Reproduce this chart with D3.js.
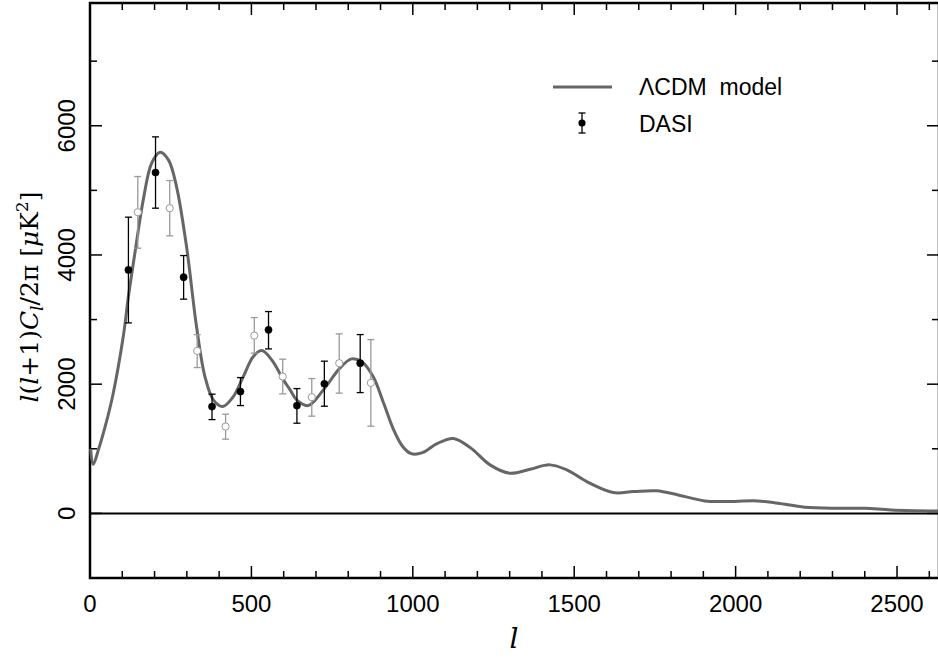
<!DOCTYPE html>
<html>
<head>
<meta charset="utf-8">
<script src="https://cdn.jsdelivr.net/npm/d3@7"></script>
<style>
  body { margin: 0; background: #fff; }
</style>
</head>
<body>
<div id="chart"></div>
<script>
// LCDM model curve (l, l(l+1)Cl/2pi)
var modelL = [2, 10, 26, 50, 72, 103, 119, 139, 165, 191, 217, 243, 268, 299, 330, 356, 382, 411, 444, 475, 506, 532, 563, 599, 620, 640, 676, 723, 774, 810, 841, 877, 910, 940, 968, 995, 1030, 1075, 1126, 1180, 1239, 1301, 1363, 1425, 1477, 1539, 1621, 1683, 1755, 1822, 1904, 1966, 2069, 2131, 2214, 2317, 2400, 2482, 2630];
var modelV = [1000, 760, 983, 1400, 1860, 2737, 3356, 4028, 4853, 5421, 5591, 5472, 5059, 4130, 2892, 2118, 1757, 1653, 1808, 2118, 2427, 2520, 2376, 2067, 1912, 1757, 1669, 1912, 2248, 2392, 2350, 2118, 1700, 1300, 1040, 925, 940, 1080, 1160, 1010, 751, 622, 684, 751, 673, 492, 322, 337, 350, 286, 193, 183, 193, 158, 96, 80, 80, 54, 38];

// DASI bandpowers (filled)
var dasiL = [119, 203, 290, 378, 466, 553, 641, 726, 837];
var dasiV = [3769, 5276, 3656, 1653, 1886, 2841, 1669, 2005, 2325];
var dasiLo = [2949, 4724, 3316, 1452, 1669, 2546, 1396, 1659, 1870];
var dasiHi = [4585, 5828, 3991, 1845, 2102, 3124, 1932, 2356, 2768];

// offset bins (open, grey)
var altL = [148, 247, 332, 420, 509, 597, 687, 772, 870];
var altV = [4662, 4724, 2515, 1344, 2752, 2118, 1799, 2325, 2020];
var altLo = [4105, 4296, 2257, 1149, 2480, 1850, 1505, 1861, 1350];
var altHi = [5214, 5152, 2768, 1535, 3031, 2387, 2087, 2779, 2690];

var xTicks = [0, 500, 1000, 1500, 2000, 2500];
var yTicks = [0, 2000, 4000, 6000];

(function () {
    var width = 938, height = 664;
    var mLeft = 90, mRight = 939, mTop = 3, mBottom = 578;
    var sans = "Liberation Sans, Arial, sans-serif";
    var serif = "DejaVu Serif, serif";

    var svg = d3.select("#chart").append("svg")
        .attr("width", width)
        .attr("height", height);

    var x = d3.scaleLinear().domain([0, 2630]).range([mLeft, mRight]);
    var y = d3.scaleLinear().domain([-1000, 7900]).range([mBottom, mTop]);

    // ticks: major + minor, inward on all four sides
    var xMinor = d3.range(100, 2630, 100).filter(function (d) { return d % 500 != 0; });
    var yMinor = [-1000, 1000, 3000, 5000, 7000];

    function tickLines(g, vals, len, orient) {
        var horiz = orient == "b" || orient == "t";
        g.selectAll(null).data(vals).enter().append("line")
            .attr("stroke", "#000")
            .attr("stroke-width", 1.5)
            .attr("x1", function (d) { return horiz ? x(d) : (orient == "l" ? mLeft : mRight); })
            .attr("x2", function (d) { return horiz ? x(d) : (orient == "l" ? mLeft + len : mRight - len); })
            .attr("y1", function (d) { return horiz ? (orient == "b" ? mBottom : mTop) : y(d); })
            .attr("y2", function (d) { return horiz ? (orient == "b" ? mBottom - len : mTop + len) : y(d); });
    }
    var tg = svg.append("g");
    tickLines(tg, xTicks, 12, "b");
    tickLines(tg, xMinor, 7, "b");
    tickLines(tg, xTicks, 12, "t");
    tickLines(tg, xMinor, 7, "t");
    tickLines(tg, yTicks, 12, "l");
    tickLines(tg, yMinor, 7, "l");
    tickLines(tg, yTicks, 12, "r");
    tickLines(tg, yMinor, 7, "r");

    // frame
    svg.append("rect")
        .attr("x", mLeft).attr("y", mTop)
        .attr("width", mRight - mLeft).attr("height", mBottom - mTop)
        .attr("fill", "none")
        .attr("stroke", "#000")
        .attr("stroke-width", 2.5);

    // zero line
    svg.append("line")
        .attr("x1", mLeft).attr("x2", mRight)
        .attr("y1", y(0)).attr("y2", y(0))
        .attr("stroke", "#000")
        .attr("stroke-width", 2);

    // tick labels
    svg.selectAll(".xlab").data(xTicks).enter().append("text")
        .attr("class", "xlab")
        .attr("x", function (d) { return x(d); })
        .attr("y", 612)
        .attr("text-anchor", "middle")
        .attr("font-family", sans)
        .attr("font-size", 24)
        .text(function (d) { return d; });

    svg.selectAll(".ylab").data(yTicks).enter().append("text")
        .attr("class", "ylab")
        .attr("transform", function (d) { return "translate(75," + y(d) + ") rotate(-90)"; })
        .attr("text-anchor", "middle")
        .attr("font-family", sans)
        .attr("font-size", 24)
        .text(function (d) { return d; });

    // axis titles
    svg.append("text")
        .attr("x", 514).attr("y", 648)
        .attr("text-anchor", "middle")
        .attr("font-family", serif)
        .attr("font-style", "italic")
        .attr("font-size", 28)
        .text("l");

    var yt = svg.append("text")
        .attr("transform", "translate(38,297) rotate(-90)")
        .attr("text-anchor", "middle")
        .attr("font-family", serif)
        .attr("font-size", 25);
    yt.append("tspan").attr("font-style", "italic").text("l");
    yt.append("tspan").text("(");
    yt.append("tspan").attr("font-style", "italic").text("l");
    yt.append("tspan").text("+1)");
    yt.append("tspan").attr("font-style", "italic").text("C");
    yt.append("tspan").attr("font-style", "italic").attr("font-size", 17).attr("dy", 5).text("l");
    yt.append("tspan").attr("dy", -5).text("/2π [");
    yt.append("tspan").attr("font-style", "italic").text("μ");
    yt.append("tspan").text("K");
    yt.append("tspan").attr("font-size", 17).attr("dy", -10).text("2");
    yt.append("tspan").attr("dy", 10).text("]");

    // model curve
    var line = d3.line()
        .x(function (d, i) { return x(modelL[i]); })
        .y(function (d) { return y(d); })
        .curve(d3.curveCatmullRom.alpha(0.5));

    svg.append("path")
        .datum(modelV)
        .attr("d", line)
        .attr("fill", "none")
        .attr("stroke", "#666")
        .attr("stroke-width", 3);

    // error bars
    function errorBars(ls, vs, lo, hi, col, filled) {
        var g = svg.append("g");
        ls.forEach(function (l, i) {
            var cx = x(l);
            g.append("line").attr("x1", cx).attr("x2", cx).attr("y1", y(lo[i])).attr("y2", y(hi[i]))
                .attr("stroke", col).attr("stroke-width", 1.3);
            [lo[i], hi[i]].forEach(function (v) {
                g.append("line").attr("x1", cx - 3.5).attr("x2", cx + 3.5).attr("y1", y(v)).attr("y2", y(v))
                    .attr("stroke", col).attr("stroke-width", 1.3);
            });
            g.append("circle").attr("cx", cx).attr("cy", y(vs[i])).attr("r", 3.6)
                .attr("fill", filled ? col : "#fff")
                .attr("stroke", col)
                .attr("stroke-width", filled ? 0.5 : 1);
        });
    }
    errorBars(altL, altV, altLo, altHi, "#999", false);
    errorBars(dasiL, dasiV, dasiLo, dasiHi, "#000", true);

    // legend
    svg.append("line")
        .attr("x1", 553).attr("x2", 612).attr("y1", 87).attr("y2", 87)
        .attr("stroke", "#666").attr("stroke-width", 3);
    svg.append("text").attr("x", 639).attr("y", 95)
        .attr("font-family", sans).attr("font-size", 23)
        .attr("xml:space", "preserve")
        .text("ΛCDM  model");

    var lg = svg.append("g");
    lg.append("line").attr("x1", 582).attr("x2", 582).attr("y1", 113).attr("y2", 133)
        .attr("stroke", "#000").attr("stroke-width", 1.3);
    lg.append("line").attr("x1", 578.5).attr("x2", 585.5).attr("y1", 113).attr("y2", 113)
        .attr("stroke", "#000").attr("stroke-width", 1.3);
    lg.append("line").attr("x1", 578.5).attr("x2", 585.5).attr("y1", 133).attr("y2", 133)
        .attr("stroke", "#000").attr("stroke-width", 1.3);
    lg.append("circle").attr("cx", 582).attr("cy", 123).attr("r", 3.6).attr("fill", "#000");
    svg.append("text").attr("x", 639).attr("y", 132)
        .attr("font-family", sans).attr("font-size", 23)
        .text("DASI");
})();
</script>
</body>
</html>
